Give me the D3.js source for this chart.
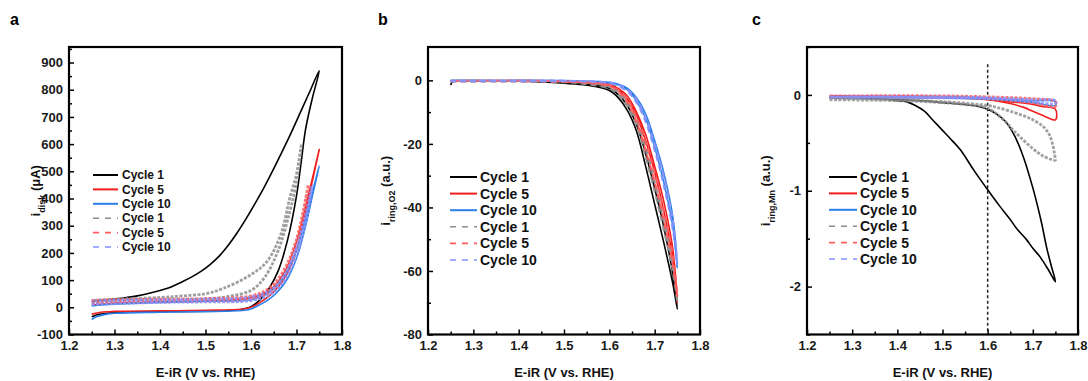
<!DOCTYPE html>
<html>
<head>
<meta charset="utf-8">
<script src="https://cdn.jsdelivr.net/npm/d3@7"></script>
<style>
  body { margin: 0; background: #fff; }
  svg { display: block; font-family: "Liberation Sans", Arial, sans-serif; font-weight: bold; }
</style>
</head>
<body>
<svg id="chart" width="1088" height="381"></svg>
<script>
// legend labels
const legendLabels = ['Cycle 1', 'Cycle 5', 'Cycle 10', 'Cycle 1', 'Cycle 5', 'Cycle 10'];
const xTicks = [1.2, 1.3, 1.4, 1.5, 1.6, 1.7, 1.8];

// panel a: disk current (uA), each series = forward scan then return scan
const aSolid1 = [[1.25,-35],[1.26,-28],[1.28,-23],[1.3,-20],[1.35,-17],[1.4,-16],[1.45,-15],[1.5,-14],[1.55,-12],[1.58,-7],[1.6,2],[1.62,28],[1.64,70],[1.66,135],[1.68,245],[1.7,410],[1.71,530],[1.72,655],[1.735,770],[1.75,870],
  [1.73,796],[1.71,722],[1.69,648],[1.67,578],[1.65,510],[1.63,445],[1.61,385],[1.59,328],[1.57,275],[1.55,228],[1.53,188],[1.51,157],[1.49,132],[1.47,112],[1.45,95],[1.42,72],[1.4,62],[1.35,42],[1.3,30],[1.25,22]];
const aSolid5 = [[1.25,-25],[1.27,-18],[1.3,-15],[1.4,-13],[1.5,-11],[1.58,-7],[1.6,0],[1.62,18],[1.64,42],[1.66,75],[1.68,125],[1.7,210],[1.72,345],[1.735,465],[1.75,580],
  [1.74,510],[1.72,370],[1.7,240],[1.68,150],[1.66,95],[1.64,62],[1.62,45],[1.6,35],[1.55,27],[1.5,23],[1.4,20],[1.3,15],[1.25,8]];
const aSolid10 = [[1.25,-45],[1.26,-35],[1.28,-26],[1.3,-22],[1.4,-18],[1.5,-16],[1.58,-12],[1.6,-6],[1.62,10],[1.64,30],[1.66,60],[1.68,105],[1.7,180],[1.72,300],[1.735,410],[1.75,520],
  [1.74,455],[1.72,325],[1.7,210],[1.68,135],[1.66,85],[1.64,55],[1.62,38],[1.6,28],[1.5,22],[1.4,18],[1.3,12],[1.25,5]];
const aDash1 = [[1.25,15],[1.3,20],[1.4,24],[1.5,30],[1.55,40],[1.6,62],[1.63,110],[1.66,210],[1.685,350],[1.7,460],[1.711,600],
  [1.7,490],[1.685,400],[1.665,266],[1.635,168],[1.6,120],[1.54,70],[1.5,50],[1.45,42],[1.4,36],[1.3,30],[1.25,25]];
const aDash5 = [[1.25,15],[1.4,20],[1.5,22],[1.6,30],[1.64,55],[1.67,110],[1.7,220],[1.726,450],
  [1.7,250],[1.67,130],[1.64,70],[1.6,42],[1.5,32],[1.4,30],[1.3,28],[1.25,25]];
const aDash10 = [[1.25,10],[1.4,18],[1.5,20],[1.6,25],[1.64,45],[1.67,90],[1.7,190],[1.72,310],[1.735,450],
  [1.72,340],[1.7,220],[1.67,110],[1.64,60],[1.6,38],[1.5,30],[1.4,28],[1.3,26],[1.25,22]];

// panel b: ring current O2 (a.u.)
const bSolid1 = [[1.25,-1.5],[1.255,-0.3],[1.3,-0.2],[1.4,-0.3],[1.45,-0.5],[1.5,-0.9],[1.55,-1.5],[1.6,-3.2],[1.62,-5.5],[1.64,-9.5],[1.66,-16],[1.68,-27],[1.7,-39],[1.72,-51],[1.74,-64],[1.75,-72],
  [1.74,-61],[1.72,-46],[1.7,-34],[1.68,-23],[1.66,-14],[1.64,-8],[1.62,-4.5],[1.6,-2.5],[1.55,-1],[1.5,-0.5],[1.4,-0.2],[1.3,-0.1],[1.25,-0.1]];
const bSolid5 = [[1.25,-0.3],[1.5,-0.3],[1.55,-0.5],[1.6,-1.5],[1.62,-3],[1.64,-6],[1.66,-11],[1.68,-19],[1.7,-29],[1.72,-41],[1.74,-56],[1.75,-70],
  [1.74,-53],[1.72,-38],[1.7,-27],[1.68,-17],[1.66,-10],[1.64,-5],[1.62,-2.5],[1.6,-1.2],[1.5,-0.2],[1.25,-0.2]];
const bSolid10 = [[1.25,-0.3],[1.5,-0.2],[1.55,-0.3],[1.6,-0.8],[1.62,-1.5],[1.64,-3],[1.66,-6.5],[1.68,-12],[1.7,-21],[1.72,-32],[1.74,-46],[1.75,-59],
  [1.74,-43],[1.72,-29],[1.7,-19],[1.68,-10.5],[1.66,-5.5],[1.64,-2.5],[1.62,-1.2],[1.6,-0.6],[1.5,-0.1],[1.25,-0.1]];
const bDash1 = [[1.25,-0.4],[1.5,-0.6],[1.55,-1.2],[1.6,-2.5],[1.62,-4.5],[1.64,-8],[1.66,-14],[1.68,-24],[1.7,-35],[1.72,-47],[1.74,-60],[1.75,-70],
  [1.74,-58],[1.72,-44],[1.7,-32],[1.68,-21],[1.66,-12.5],[1.64,-7],[1.62,-3.8],[1.6,-2],[1.5,-0.4],[1.25,-0.2]];
const bDash5 = [[1.25,-0.3],[1.5,-0.4],[1.55,-0.8],[1.6,-1.8],[1.62,-3.5],[1.64,-7],[1.66,-13],[1.68,-22],[1.7,-32],[1.72,-44],[1.74,-58],[1.75,-68],
  [1.74,-55],[1.72,-41],[1.7,-29],[1.68,-19.5],[1.66,-11.5],[1.64,-6],[1.62,-3],[1.6,-1.5],[1.5,-0.3],[1.25,-0.2]];
const bDash10 = [[1.25,-0.3],[1.5,-0.2],[1.55,-0.4],[1.6,-0.9],[1.62,-1.8],[1.64,-3.5],[1.66,-7],[1.68,-13],[1.7,-22],[1.72,-33],[1.74,-47],[1.75,-58],
  [1.74,-44],[1.72,-30],[1.7,-20],[1.68,-11.5],[1.66,-6],[1.64,-3],[1.62,-1.4],[1.6,-0.7],[1.5,-0.1],[1.25,-0.1]];

// panel c: ring current Mn (a.u.)
const cSolid1 = [[1.25,-0.03],[1.3,-0.03],[1.35,-0.04],[1.4,-0.05],[1.45,-0.06],[1.5,-0.08],[1.55,-0.1],[1.58,-0.12],[1.6,-0.15],[1.62,-0.2],[1.64,-0.28],[1.66,-0.43],[1.68,-0.66],[1.7,-0.97],[1.71,-1.15],[1.72,-1.35],[1.73,-1.58],[1.74,-1.77],[1.75,-1.95],
  [1.735,-1.83],[1.716,-1.69],[1.7,-1.6],[1.686,-1.51],[1.665,-1.4],[1.65,-1.3],[1.625,-1.15],[1.6,-0.99],[1.57,-0.79],[1.54,-0.575],[1.52,-0.47],[1.5,-0.37],[1.48,-0.27],[1.46,-0.17],[1.44,-0.11],[1.42,-0.07],[1.4,-0.06],[1.38,-0.05]];
const cSolid5 = [[1.25,-0.02],[1.5,-0.03],[1.6,-0.05],[1.65,-0.09],[1.68,-0.13],[1.7,-0.17],[1.72,-0.21],[1.75,-0.26],
  [1.75,-0.15],[1.72,-0.12],[1.7,-0.1],[1.65,-0.07],[1.6,-0.04],[1.5,-0.02],[1.25,-0.01]];
const cSolid10 = [[1.25,-0.03],[1.5,-0.03],[1.6,-0.04],[1.65,-0.06],[1.7,-0.08],[1.75,-0.11],
  [1.75,-0.07],[1.7,-0.06],[1.65,-0.05],[1.6,-0.03],[1.5,-0.02],[1.25,-0.02]];
const cDash1 = [[1.25,-0.05],[1.4,-0.06],[1.5,-0.08],[1.55,-0.1],[1.6,-0.14],[1.635,-0.26],[1.655,-0.36],[1.672,-0.44],[1.7,-0.56],[1.72,-0.63],[1.745,-0.68],[1.75,-0.68],
  [1.748,-0.62],[1.745,-0.54],[1.737,-0.42],[1.723,-0.33],[1.7,-0.26],[1.686,-0.23],[1.65,-0.17],[1.62,-0.13],[1.6,-0.11],[1.5,-0.07],[1.4,-0.05],[1.25,-0.03]];
const cDash5 = [[1.25,-0.02],[1.5,-0.02],[1.6,-0.04],[1.65,-0.06],[1.7,-0.08],[1.75,-0.12],
  [1.75,-0.07],[1.7,-0.04],[1.6,-0.02],[1.5,-0.01],[1.25,-0.01]];
const cDash10 = [[1.25,-0.02],[1.5,-0.03],[1.6,-0.04],[1.65,-0.05],[1.7,-0.07],[1.75,-0.09],
  [1.75,-0.06],[1.7,-0.05],[1.6,-0.03],[1.5,-0.02],[1.25,-0.02]];
const cMarkerE = 1.6;

const solidColors = ['#000000', '#f21d1d', '#2a7fe8'];
const dashColors = ['#8e8e8e', '#ff5c5c', '#8593ff'];

const svg = d3.select('#chart');
const plotTop = 47, plotBottom = 334.5;

function drawPanel(p) {
    const g = svg.append('g');
    const x = d3.scaleLinear().domain([1.2, 1.8]).range([p.left, p.right]);
    const y = d3.scaleLinear().domain(p.yDomain).range([plotBottom, plotTop]);

    // minor ticks
    g.append('g')
        .attr('transform', `translate(0,${plotBottom})`)
        .call(d3.axisBottom(x).tickValues(d3.range(1.25, 1.8, 0.1)).tickSize(-3).tickFormat(''))
        .call(a => a.select('.domain').remove());
    g.append('g')
        .attr('transform', `translate(${p.left},0)`)
        .call(d3.axisLeft(y).tickValues(p.yMinor).tickSize(-3).tickFormat(''))
        .call(a => a.select('.domain').remove());

    // major ticks + labels (plain hyphen minus like the original)
    const xa = g.append('g')
        .attr('transform', `translate(0,${plotBottom})`)
        .call(d3.axisBottom(x).tickValues(xTicks).tickSize(-5).tickPadding(6).tickFormat(d => d.toFixed(1)));
    const ya = g.append('g')
        .attr('transform', `translate(${p.left},0)`)
        .call(d3.axisLeft(y).tickValues(p.yTicks).tickSize(-5).tickPadding(6).tickFormat(d => String(d)));
    [xa, ya].forEach(a => {
        a.select('.domain').remove();
        a.selectAll('text').style('font-size', '13px').style('font-weight', 'bold')
            .style('font-family', '"Liberation Sans", Arial, sans-serif').attr('fill', '#1a1a1a');
    });
    g.selectAll('.tick line').attr('stroke', '#000').attr('stroke-width', 1.5);

    const clipId = 'clip-' + p.letter;
    g.append('clipPath').attr('id', clipId).append('rect')
        .attr('x', p.left).attr('y', plotTop).attr('width', p.right - p.left).attr('height', plotBottom - plotTop);
    const plot = g.append('g').attr('clip-path', `url(#${clipId})`);

    if (p.marker !== undefined) {
        plot.append('line')
            .attr('x1', x(p.marker)).attr('x2', x(p.marker))
            .attr('y1', y(0.32)).attr('y2', plotBottom)
            .attr('stroke', '#222').attr('stroke-width', 1.5).attr('stroke-dasharray', '3,2.5');
    }

    const line = d3.line().x(d => x(d[0])).y(d => y(d[1])).curve(d3.curveCatmullRom.alpha(0.5));

    p.solid.forEach((s, i) => {
        plot.append('path').datum(s).attr('d', line)
            .attr('fill', 'none').attr('stroke', solidColors[i]).attr('stroke-width', 1.6);
    });
    p.dash.forEach((s, i) => {
        plot.append('path').datum(s).attr('d', line)
            .attr('fill', 'none').attr('stroke', dashColors[i])
            .attr('stroke-width', p.noisy ? 2.8 : 2)
            .attr('stroke-opacity', p.noisy ? 0.85 : 1)
            .attr('stroke-dasharray', p.noisy ? '3,1.5' : '6,4');
    });

    // frame
    g.append('rect')
        .attr('x', p.left).attr('y', plotTop).attr('width', p.right - p.left).attr('height', plotBottom - plotTop)
        .attr('fill', 'none').attr('stroke', '#000').attr('stroke-width', 2.2);

    // legend
    const lg = g.append('g');
    legendLabels.forEach((lab, i) => {
        const ly = p.legend.y + i * p.legend.dy;
        const color = i < 3 ? solidColors[i] : dashColors[i - 3];
        lg.append('line')
            .attr('x1', p.legend.x1).attr('x2', p.legend.x2).attr('y1', ly).attr('y2', ly)
            .attr('stroke', color).attr('stroke-width', i < 3 ? 2 : 1.6)
            .attr('stroke-dasharray', i < 3 ? null : '6,6');
        lg.append('text')
            .attr('x', p.legend.tx).attr('y', ly).attr('dy', '0.35em')
            .style('font-size', p.legend.fs + 'px').attr('fill', '#111')
            .text(lab);
    });

    // axis titles
    g.append('text')
        .attr('x', (p.left + p.right) / 2).attr('y', 377)
        .attr('text-anchor', 'middle').style('font-size', '13px').attr('fill', '#111')
        .text('E-iR (V vs. RHE)');
    const yt = g.append('text')
        .attr('transform', `translate(${p.yTitleX},${(plotTop + plotBottom) / 2}) rotate(-90)`)
        .attr('text-anchor', 'middle').style('font-size', '13px').attr('fill', '#111');
    yt.append('tspan').text('i');
    yt.append('tspan').attr('baseline-shift', 'sub').style('font-size', '9px').text(p.yTitleSub);
    yt.append('tspan').text(' ' + p.yTitleUnit);

    // panel letter
    svg.append('text')
        .attr('x', p.letterX).attr('y', 25)
        .style('font-size', '16px').attr('fill', '#000')
        .text(p.letter);
}

drawPanel({
    letter: 'a', letterX: 10, left: 69, right: 342,
    yDomain: [-100, 957], yTicks: d3.range(-100, 901, 100), yMinor: d3.range(-50, 951, 100),
    yTitleX: 40, yTitleSub: 'disk', yTitleUnit: '(\u03bcA)',
    solid: [aSolid1, aSolid5, aSolid10], dash: [aDash1, aDash5, aDash10], noisy: true,
    legend: { x1: 93, x2: 118, tx: 122, y: 175, dy: 14.4, fs: 12 }
});
drawPanel({
    letter: 'b', letterX: 378, left: 428, right: 700,
    yDomain: [-80, 10.5], yTicks: d3.range(-80, 1, 20), yMinor: d3.range(-70, 10, 20),
    yTitleX: 390, yTitleSub: 'ring,O2', yTitleUnit: '(a.u.)',
    solid: [bSolid1, bSolid5, bSolid10], dash: [bDash1, bDash5, bDash10], noisy: false,
    legend: { x1: 450, x2: 477, tx: 480, y: 177, dy: 16.6, fs: 14 }
});
drawPanel({
    letter: 'c', letterX: 752, left: 807, right: 1078,
    yDomain: [-2.5, 0.5], yTicks: [-2, -1, 0], yMinor: [-2.5, -1.5, -0.5, 0.5],
    yTitleX: 770, yTitleSub: 'ring,Mn', yTitleUnit: '(a.u.)',
    solid: [cSolid1, cSolid5, cSolid10], dash: [cDash1, cDash5, cDash10], noisy: true,
    marker: cMarkerE,
    legend: { x1: 829, x2: 857, tx: 860, y: 177, dy: 16.4, fs: 14 }
});
</script>
</body>
</html>
